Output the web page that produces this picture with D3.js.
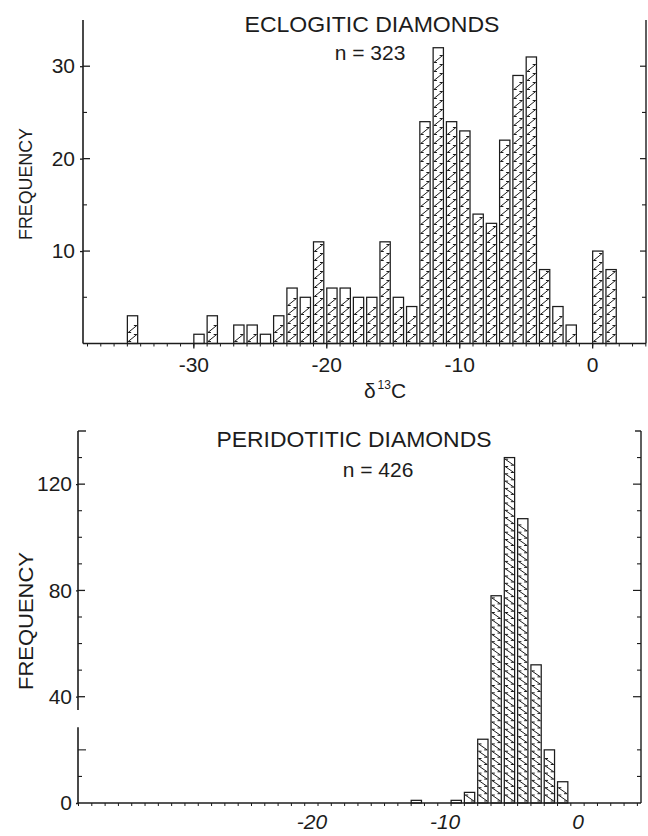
<!DOCTYPE html>
<html><head><meta charset="utf-8">
<script src="https://cdn.jsdelivr.net/npm/d3@7"></script>
<style>
html,body{margin:0;padding:0;background:#fff;}
svg{display:block;}
</style></head><body>
<svg id="c" width="648" height="836"></svg>
<script>
// ---- data (1 per-mil bins: lower edge and count) ----
const eclogiticBinStart = [-35,-30,-29,-27,-26,-25,-24,-23,-22,-21,-20,-19,-18,-17,-16,-15,-14,-13,-12,-11,-10,-9,-8,-7,-6,-5,-4,-3,-2,0,1];
const eclogiticCounts   = [3,1,3,2,2,1,3,6,5,11,6,6,5,5,11,5,4,24,32,24,23,14,13,22,29,31,8,4,2,10,8];
const peridotiticBinStart = [-13,-10,-9,-8,-7,-6,-5,-4,-3,-2];
const peridotiticCounts   = [1,1,4,24,78,130,107,52,20,8];
const topXTicks = [-30,-20,-10,0];
const topXTickLabels = ["-30","-20","-10","0"];
const topYTicks = [10,20,30];
const topYMinor = [5,15,25];
const botXTicks = [-20,-10,0];
const botXTickLabels = ["-20","-10","0"];
const botYTicks = [0,40,80,120];
const botYMinor = [10,20,50,60,70,90,100,110,130];
const unitTicks = d3.range(-38,5);

const svg = d3.select("#c");
const ink = "#1c1c1c";
const FONT = "'Liberation Sans', Arial, sans-serif";

// scales
const xT = d3.scaleLinear().domain([-38.3, 4.05]).range([83, 646]);
const yT = d3.scaleLinear().domain([0, 35]).range([343.5, 20]);
const xB = d3.scaleLinear().domain([-38.0, 4.31]).range([78, 641]);
const yB = d3.scaleLinear().domain([0, 140]).range([803, 431]);

function hatch(x0, x1, yBase, yTop, step, rise, dir) {
  let d = "";
  const arm = 3;
  for (let yb = yBase - 2; yb - rise >= yTop + 1.5; yb -= step) {
    const yt = yb - rise;
    if (dir > 0) d += `M${x0+arm+0.8},${yb}L${x0+0.8},${yb}L${x1-0.8},${yt}L${x1-arm-0.8},${yt}`;
    else d += `M${x1-arm-0.8},${yb}L${x1-0.8},${yb}L${x0+0.8},${yt}L${x0+arm+0.8},${yt}`;
  }
  return d;
}

function bars(x, y, starts, counts, step, rise, dir) {
  const data = starts.map((s, i) => ({s, c: counts[i]}));
  const g = svg.append("g");
  const b = g.selectAll("g").data(data).join("g");
  b.append("rect")
    .attr("x", d => x(d.s) + 0.5).attr("y", d => y(d.c))
    .attr("width", d => x(d.s + 1) - x(d.s) - 3).attr("height", d => y(0) - y(d.c))
    .attr("fill", "#fff").attr("stroke", ink).attr("stroke-width", 1.25);
  b.append("path")
    .attr("d", d => hatch(x(d.s) + 0.5, x(d.s + 1) - 2.5, y(0), y(d.c), step, rise, dir))
    .attr("fill", "none").attr("stroke", ink).attr("stroke-width", 1);
}

function line(x1, y1, x2, y2, w) {
  svg.append("line").attr("x1", x1).attr("y1", y1).attr("x2", x2).attr("y2", y2)
    .attr("stroke", ink).attr("stroke-width", w || 1.4);
}

function styleAxis(g, size, italic) {
  g.attr("font-family", FONT).attr("font-size", size);
  g.selectAll("text").attr("fill", ink).attr("font-style", italic ? "italic" : null);
  g.selectAll("line").attr("stroke", ink).attr("stroke-width", 1.3);
  g.select(".domain").remove();
}

// ================= TOP PANEL =================
bars(xT, yT, eclogiticBinStart, eclogiticCounts, 9, 7, 1);
line(xT.range()[0], yT(0), xT.range()[1], yT(0), 1.6);
line(xT.range()[0], yT(35), xT.range()[0], yT(0), 1.6);
line(xT.range()[1], yT(35), xT.range()[1], yT(0), 1.4);
const gyT = svg.append("g").attr("transform", `translate(${xT.range()[0]},0)`)
  .call(d3.axisLeft(yT).tickValues(topYTicks).tickSize(3).tickPadding(5));
styleAxis(gyT, 21);
topYTicks.forEach(v => { line(xT.range()[0], yT(v), xT.range()[0] + 7, yT(v), 1.3); line(xT.range()[1], yT(v), xT.range()[1] - 6, yT(v), 1.2); });
topYMinor.forEach(v => { line(xT.range()[0], yT(v), xT.range()[0] + 4, yT(v), 1.1); line(xT.range()[1], yT(v), xT.range()[1] - 4, yT(v), 1.1); });
const gxTm = svg.append("g").attr("transform", `translate(0,${yT(0)})`)
  .call(d3.axisBottom(xT).tickValues(unitTicks).tickSize(3).tickFormat(""));
styleAxis(gxTm, 10);
gxTm.selectAll("line").attr("stroke-width", 1);
const gxT = svg.append("g").attr("transform", `translate(0,${yT(0)})`)
  .call(d3.axisBottom(xT).tickValues(topXTicks).tickSize(5).tickPadding(9)
    .tickFormat((d, i) => topXTickLabels[i]));
styleAxis(gxT, 21);

svg.append("text").attr("x", 372).attr("y", 32).attr("text-anchor", "middle")
  .attr("font-family", FONT).attr("font-size", 22).attr("fill", ink)
  .attr("textLength", 255).attr("lengthAdjust", "spacingAndGlyphs")
  .text("ECLOGITIC DIAMONDS");
svg.append("text").attr("x", 370).attr("y", 60).attr("text-anchor", "middle")
  .attr("font-family", FONT).attr("font-size", 21).attr("fill", ink)
  .text("n = 323");
svg.append("text").attr("transform", "translate(32,184) rotate(-90)").attr("text-anchor", "middle")
  .attr("font-family", FONT).attr("font-size", 19).attr("fill", ink)
  .attr("textLength", 112).attr("lengthAdjust", "spacingAndGlyphs")
  .text("FREQUENCY");
const xl = svg.append("text").attr("x", 385).attr("y", 398).attr("text-anchor", "middle")
  .attr("font-family", FONT).attr("font-size", 21).attr("fill", ink);
xl.append("tspan").text("δ");
xl.append("tspan").attr("font-size", 12).attr("dy", -9).attr("dx", 2).text("13");
xl.append("tspan").attr("dy", 9).text("C");

// ================= BOTTOM PANEL =================
bars(xB, yB, peridotiticBinStart, peridotiticCounts, 7.3, 6, -1);
line(xB.range()[0], yB(0), xB.range()[1], yB(0), 1.6);
line(xB.range()[0], yB(0), xB.range()[0], yB(28.5), 1.6);
line(xB.range()[0], yB(35), xB.range()[0], yB(140), 1.6);
line(xB.range()[0], yB(140), xB.range()[0] + 8, yB(140), 1.4);
line(xB.range()[1], yB(0), xB.range()[1], yB(140), 1.4);
line(xB.range()[1], yB(140), xB.range()[1] - 6, yB(140), 1.4);
const gyB = svg.append("g").attr("transform", `translate(${xB.range()[0]},0)`)
  .call(d3.axisLeft(yB).tickValues(botYTicks).tickSize(2).tickPadding(4));
styleAxis(gyB, 21);
botYTicks.forEach(v => { if (v > 0) { line(xB.range()[0], yB(v), xB.range()[0] + 7, yB(v), 1.3); line(xB.range()[1], yB(v), xB.range()[1] - 8, yB(v), 1.2); } });
botYMinor.forEach(v => { line(xB.range()[0], yB(v), xB.range()[0] + (v === 20 ? 8 : 4), yB(v), 1.1); line(xB.range()[1], yB(v), xB.range()[1] - 4, yB(v), 1.1); });
const gxBm = svg.append("g").attr("transform", `translate(0,${yB(0)})`)
  .call(d3.axisBottom(xB).tickValues(unitTicks).tickSize(3).tickFormat(""));
styleAxis(gxBm, 10);
gxBm.selectAll("line").attr("stroke-width", 1);
const gxB = svg.append("g").attr("transform", `translate(-6,${yB(0)})`)
  .call(d3.axisBottom(xB).tickValues(botXTicks).tickSize(0).tickPadding(11)
    .tickFormat((d, i) => botXTickLabels[i]));
styleAxis(gxB, 21, true);

svg.append("text").attr("x", 354).attr("y", 447).attr("text-anchor", "middle")
  .attr("font-family", FONT).attr("font-size", 22).attr("fill", ink)
  .attr("textLength", 275).attr("lengthAdjust", "spacingAndGlyphs")
  .text("PERIDOTITIC DIAMONDS");
svg.append("text").attr("x", 378).attr("y", 477).attr("text-anchor", "middle")
  .attr("font-family", FONT).attr("font-size", 21).attr("fill", ink)
  .text("n = 426");
svg.append("text").attr("transform", "translate(33,621) rotate(-90)").attr("text-anchor", "middle")
  .attr("font-family", FONT).attr("font-size", 21).attr("fill", ink)
  .attr("textLength", 138).attr("lengthAdjust", "spacingAndGlyphs")
  .text("FREQUENCY");
</script>
</body></html>
